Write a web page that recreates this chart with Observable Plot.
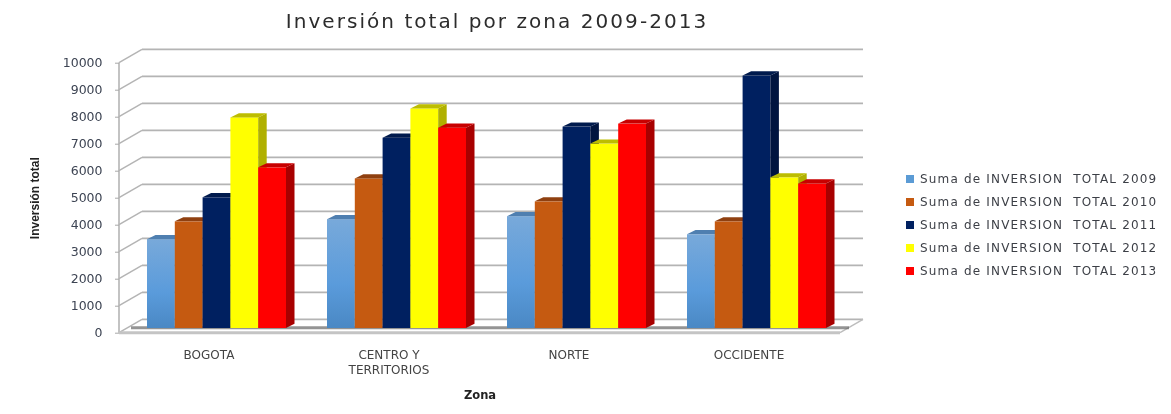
<!DOCTYPE html>
<html lang="es">
<head>
<meta charset="utf-8">
<script src="https://cdn.jsdelivr.net/npm/d3@7"></script>
<script src="https://cdn.jsdelivr.net/npm/@observablehq/plot@0.6"></script>
<style>
html,body{margin:0;padding:0;background:#fff;}
#wrap{position:relative;width:1171px;height:414px;overflow:hidden;filter:blur(0.65px);font-family:"DejaVu Sans",sans-serif;}
#title{position:absolute;left:0;width:994px;top:9px;margin:0;text-align:center;font-size:20px;font-weight:400;color:#2c2c2c;letter-spacing:2.05px;}
#legend{position:absolute;left:906px;top:168px;color:#3c3f46;font-size:12px;}
#legend div{height:23.1px;line-height:23.1px;white-space:pre;letter-spacing:1.18px;}
#legend i{display:inline-block;width:8px;height:8px;margin-right:6px;vertical-align:0;}
</style>
</head>
<body>
<div id="wrap">
<h1 id="title">Inversión total por zona 2009-2013</h1>
<div id="chart"></div>
<div id="legend"></div>
</div>
<script>
const zones = ["BOGOTA", "CENTRO Y\nTERRITORIOS", "NORTE", "OCCIDENTE"];
const years = ["2009", "2010", "2011", "2012", "2013"];
const values2009 = [3290, 4030, 4140, 3470];
const values2010 = [3950, 5540, 4690, 3950];
const values2011 = [4840, 7050, 7460, 9350];
const values2012 = [7800, 8130, 6830, 5580];
const values2013 = [5950, 7420, 7570, 5350];
const series = [values2009, values2010, values2011, values2012, values2013];
const yTicks = [0, 1000, 2000, 3000, 4000, 5000, 6000, 7000, 8000, 9000, 10000];
const faceColors = ["url(#g2009)", "#c55a11", "#002060", "#ffff00", "#ff0000"];
const swatchColors = ["#5b9bd5", "#c55a11", "#002060", "#ffff00", "#ff0000"];
const topColors = ["#4f7fb0", "#8f4010", "#001a4d", "#bdbd00", "#c80000"];
const sideColors = ["#3f6d9c", "#8a3d0c", "#00143f", "#b0b000", "#a80000"];
const legendLabels = years.map(y => "Suma de INVERSION  TOTAL " + y);

const rows = years.flatMap((year, s) => zones.map((zone, z) => ({zone, year, value: series[s][z], s})));

const NS = "http://www.w3.org/2000/svg";
const DEPTH_X = 8.5, DEPTH_Y = 4.2;       // bar extrusion
const WALL_X = 23, WALL_Y = 13.3;         // wall depth

function poly(parent, before, pts, fill) {
  const p = document.createElementNS(NS, "polygon");
  p.setAttribute("points", pts.map(a => a.join(",")).join(" "));
  p.setAttribute("fill", fill);
  parent.insertBefore(p, before);
}

function extrude(index, scales, values, dimensions, context, next) {
  const g = next(index, scales, values, dimensions, context);
  const rects = [...g.querySelectorAll("rect")];
  rects.forEach((r, i) => {
    const x = +r.getAttribute("x"), y = +r.getAttribute("y");
    const w = +r.getAttribute("width"), h = +r.getAttribute("height");
    const s = rows[index[i]].s;
    const parent = r.parentNode, after = r.nextSibling;
    poly(parent, after, [[x+w,y],[x+w+DEPTH_X,y-DEPTH_Y],[x+w+DEPTH_X,y+h-DEPTH_Y],[x+w,y+h]], sideColors[s]);
    poly(parent, after, [[x,y],[x+DEPTH_X,y-DEPTH_Y],[x+w+DEPTH_X,y-DEPTH_Y],[x+w,y]], topColors[s]);
  });
  return g;
}

// Draws walls, gridlines and floor of the 3D box from the y scale.
function walls(index, scales, values, dimensions) {
  const {width, marginLeft, marginRight} = dimensions;
  const x0 = marginLeft - 28, x1 = width - marginRight + 14;
  const g = d3.create("svg:g").attr("fill", "none");
  const line = (a, b, c, d, stroke, sw, op = 1) => g.append("line")
    .attr("x1", a).attr("y1", b).attr("x2", c).attr("y2", d)
    .attr("stroke", stroke).attr("stroke-width", sw).attr("stroke-opacity", op);
  const y0 = scales.y(0), yTop = scales.y(yTicks[yTicks.length - 1]);
  for (const v of yTicks) {
    const y = scales.y(v);
    line(x0, y, x0 + WALL_X, y - WALL_Y, "#b4b4b4", 1.5);
    line(x0 + WALL_X, y - WALL_Y, x1 + WALL_X, y - WALL_Y, "#b4b4b4", 1.6);
  }
  line(x0, y0, x0, yTop, "#b4b4b4", 1.6);
  line(x1, y0, x1 + WALL_X, y0 - WALL_Y, "#bdbdbd", 1.5);
  line(x0 + 12, y0 - 5, x1 + 9, y0 - 5, "#666", 3, 0.7);
  line(x0, y0, x1, y0, "#c4c4c4", 3);
  return g.node();
}

const chart = Plot.plot({
  width: 1171, height: 414,
  marginLeft: 126.5, marginRight: 324.5, marginTop: 62.7, marginBottom: 81.3,
  style: {background: "transparent", fontFamily: "'DejaVu Sans',sans-serif"},
  fx: {domain: zones, paddingInner: 0.228, paddingOuter: 0.114, axis: null, label: null},
  x: {domain: years, padding: 0, round: false, axis: null, label: null},
  y: {domain: [0, 10000], nice: false, axis: null, label: null},
  color: {type: "ordinal", domain: years, range: faceColors},
  marks: [
    Plot.frame({facet: "super", stroke: "none", render: walls}),
    Plot.axisY({anchor: "left", dx: -28, ticks: yTicks, tickSize: 4, tickPadding: 13, tickFormat: "d", label: null,
      fontSize: 12.5, fill: "#3d4453", stroke: "#a8a8a8", style: {letterSpacing: "2.2px"}}),
    Plot.barY(rows, {fx: "zone", x: "year", y: "value", fill: "year", dy: -4.7, inset: 0, render: extrude}),
    Plot.axisFx({anchor: "bottom", dx: -8, tickSize: 0, tickPadding: 15, label: null, fontSize: 12, lineHeight: 1.25,
      fill: "#444", style: {letterSpacing: "1.8px"}}),
    Plot.text(["Zona"], {facet: "super", frameAnchor: "bottom", dx: -7, dy: 66, fontSize: 11.5, fontWeight: 700, fill: "#222"}),
    Plot.text(["Inversión total"], {facet: "super", frameAnchor: "left", textAnchor: "middle", rotate: -90, dx: -112, fontSize: 12, fontWeight: 700, fill: "#222",
      fontFamily: "'Liberation Sans Narrow','Liberation Sans',sans-serif", style: {letterSpacing: "-.5px"}})
  ]
});

const defs = document.createElementNS(NS, "defs");
defs.innerHTML = '<linearGradient id="g2009" x1="0" y1="0" x2="0" y2="1"><stop offset="0" stop-color="#78a9da"/><stop offset=".6" stop-color="#5a9bdb"/><stop offset="1" stop-color="#4a88c4"/></linearGradient>';
chart.insertBefore(defs, chart.firstChild);
document.getElementById("chart").appendChild(chart);

const legend = document.getElementById("legend");
legendLabels.forEach((label, i) => {
  const row = document.createElement("div");
  const sw = document.createElement("i");
  sw.style.background = swatchColors[i];
  row.appendChild(sw);
  row.appendChild(document.createTextNode(label));
  legend.appendChild(row);
});
</script>
</body>
</html>
